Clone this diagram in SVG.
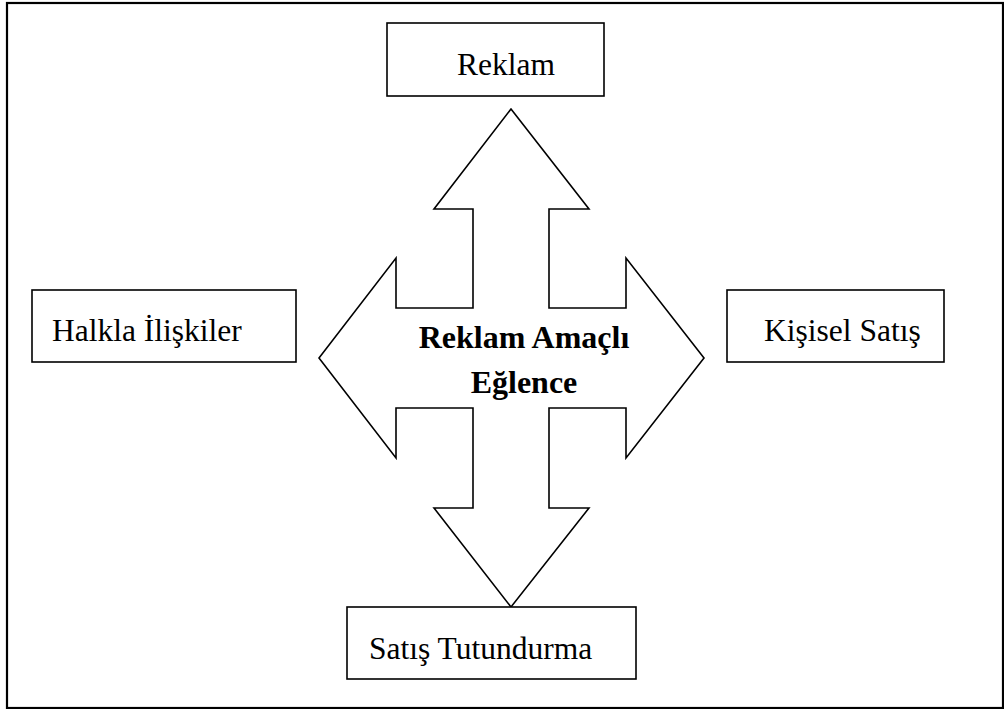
<svg xmlns="http://www.w3.org/2000/svg" width="1004" height="709" viewBox="0 0 1004 709">
  <style>
    .frame { fill: #ffffff; stroke: #000000; stroke-width: 2.2; }
    .box { fill: #ffffff; stroke: #000000; stroke-width: 1.6; }
    .arrow { fill: #ffffff; stroke: #000000; stroke-width: 1.6; stroke-linejoin: miter; }
    .lbl { font-family: "Liberation Serif", "Times New Roman", serif; font-size: 31.5px; fill: #000000; }
    .center { font-family: "Liberation Serif", "Times New Roman", serif; font-size: 32px; font-weight: bold; fill: #000000; text-anchor: middle; }
  </style>

  <!-- page frame -->
  <rect class="frame" x="7" y="3" width="996" height="705"/>

  <!-- four-way arrow -->
  <g id="connectors">
    <polygon class="arrow" points="511,109 589,209 549,209 549,308 626,308 626,258 704,358 626,458 626,408 549,408 549,508 589,508 511,607 434,508 473,508 473,408 396,408 396,458 319,358 396,258 396,308 473,308 473,209 434,209"/>
  </g>

  <g id="center-label">
    <text class="center" x="524" y="348">Reklam Amaçlı</text>
    <text class="center" x="524" y="393">Eğlence</text>
  </g>

  <g id="node-reklam">
    <rect class="box" x="387" y="23" width="217" height="73"/>
    <text class="lbl" x="457" y="75">Reklam</text>
  </g>

  <g id="node-halkla">
    <rect class="box" x="32" y="290" width="264" height="72"/>
    <text class="lbl" x="52" y="341">Halkla İlişkiler</text>
  </g>

  <g id="node-kisisel">
    <rect class="box" x="727" y="290" width="217" height="72"/>
    <text class="lbl" x="764" y="341">Kişisel Satış</text>
  </g>

  <g id="node-satis">
    <rect class="box" x="347" y="607" width="289" height="72"/>
    <text class="lbl" x="369" y="659">Satış Tutundurma</text>
  </g>
</svg>
